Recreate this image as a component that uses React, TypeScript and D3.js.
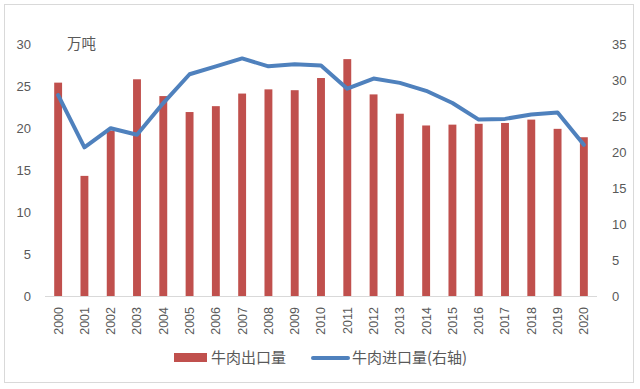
import React from 'react';
import * as d3 from 'd3';

const years = ['2000', '2001', '2002', '2003', '2004', '2005', '2006', '2007', '2008', '2009', '2010',
  '2011', '2012', '2013', '2014', '2015', '2016', '2017', '2018', '2019', '2020'];
// 牛肉出口量 (左轴, 万吨)
const exportVals = [25.4, 14.3, 19.7, 25.8, 23.8, 21.9, 22.6, 24.1, 24.6, 24.5, 25.95,
  28.2, 24.0, 21.7, 20.3, 20.4, 20.5, 20.6, 21.0, 19.9, 18.9];
// 牛肉进口量 (右轴)
const importVals = [27.9, 20.65, 23.3, 22.4, 26.8, 30.8, 31.9, 33.0, 31.9, 32.2, 32.0,
  28.8, 30.2, 29.6, 28.5, 26.8, 24.5, 24.6, 25.2, 25.5, 21.0];
const leftTicks = [0, 5, 10, 15, 20, 25, 30];
const rightTicks = [0, 5, 10, 15, 20, 25, 30, 35];

const W = 640;
const H = 389;
const margin = { top: 44, right: 43, bottom: 93, left: 45 };
const textColor = '#595959';
const latin = '"Liberation Sans", Arial, sans-serif';
const cjk = '"Noto Sans CJK SC", "Liberation Sans", sans-serif';

export default function App() {
  const innerBottom = H - margin.bottom;

  const x = d3.scaleBand()
    .domain(years)
    .range([margin.left, W - margin.right])
    .paddingInner(0.7)
    .paddingOuter(0.35);

  const yL = d3.scaleLinear().domain([0, 30]).range([innerBottom, margin.top]);
  const yR = d3.scaleLinear().domain([0, 35]).range([innerBottom, margin.top]);

  const line = d3.line<number>()
    .x((_, i) => x(years[i])! + x.bandwidth() / 2)
    .y(d => yR(d));

  return (
    <svg width={W} height={H} style={{ position: 'absolute', left: 0, top: 0, background: '#fff' }}>
      <rect x={4.5} y={4.5} width={629} height={378} fill="#fff" stroke="#d9d9d9" />

      {/* bars */}
      {exportVals.map((v, i) => (
        <rect key={years[i]}
          x={x(years[i])}
          y={yL(v)}
          width={x.bandwidth()}
          height={innerBottom - yL(v)}
          fill="#c0504d" />
      ))}

      {/* x axis line */}
      <line x1={margin.left} x2={W - margin.right} y1={innerBottom + 0.5} y2={innerBottom + 0.5}
        stroke="#d9d9d9" strokeWidth={1} />

      {/* import line */}
      <path d={line(importVals) || ''} fill="none" stroke="#4f81bd" strokeWidth={4}
        strokeLinejoin="round" strokeLinecap="round" />

      {/* left ticks */}
      {leftTicks.map(t => (
        <text key={'l' + t} x={31} y={yL(t)} dy="0.35em" textAnchor="end"
          fontSize={13} fontFamily={latin} fill={textColor}>{t}</text>
      ))}

      {/* right ticks */}
      {rightTicks.map(t => (
        <text key={'r' + t} x={612} y={yR(t)} dy="0.35em" textAnchor="start"
          fontSize={13} fontFamily={latin} fill={textColor}>{t}</text>
      ))}

      {/* x labels */}
      {years.map(yr => {
        const cx = x(yr)! + x.bandwidth() / 2;
        return (
          <text key={'x' + yr} transform={`translate(${cx},307) rotate(-90)`}
            dy="0.35em" textAnchor="end" fontSize={12.5} fontFamily={latin} fill={textColor}>{yr}</text>
        );
      })}

      {/* unit */}
      <text x={67} y={44} dy="0.35em" fontSize={14.5} fontFamily={cjk} fill={textColor}>万吨</text>

      {/* legend */}
      <rect x={174} y={353} width={33} height={9} fill="#c0504d" />
      <text x={211} y={358} dy="0.35em" fontSize={15} fontFamily={cjk} fill={textColor}>牛肉出口量</text>
      <line x1={313} x2={348} y1={358} y2={358} stroke="#4f81bd" strokeWidth={4} strokeLinecap="round" />
      <text x={352} y={358} dy="0.35em" fontSize={15} fontFamily={cjk} fill={textColor}>牛肉进口量(右轴)</text>
    </svg>
  );
}
